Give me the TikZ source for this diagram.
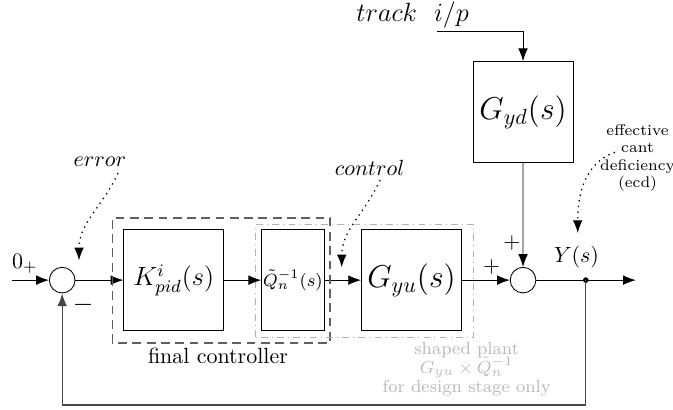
\documentclass[tikz,border=0pt]{standalone}
\usetikzlibrary{shapes,calc,arrows.meta}

\tikzset{
  block/.style={draw,rectangle,minimum width=1.60cm,minimum height=1.62cm,inner sep=1pt},
  sumnode/.style={draw,circle,minimum size=0.41cm,inner sep=0pt},
  note/.style={dotted,semithick,->}
}

\begin{document}
\begin{tikzpicture}[>={Latex[length=5.8pt,width=4.4pt]},scale=0.93]
  \useasboundingbox (0,-2.22) rectangle (11.58,4.82);
  % loop blocks
  \node[sumnode] (S1) at (1.07,0) {};
  \node[block] (K) at (2.99,0) {\large $K^i_{pid}(s)$};
  \node[block,minimum width=1.0cm,inner sep=0pt] (Q) at (5.04,0) {\footnotesize $\tilde{Q}_n^{-1}(s)$};
  \node[block] (Gyu) at (7.08,0) {\Large $G_{yu}(s)$};
  \node[sumnode] (S2) at (9.0,0) {};
  \node[block] (Gyd) at (9.0,2.89) {\Large $G_{yd}(s)$};
  \coordinate (In) at (0.21,0);
  \coordinate (Yd) at (10.08,0);
  \coordinate (Out) at (10.94,0);
  \coordinate (T0) at (7.52,4.28);
  \coordinate (FB) at (10.08,-2.15);
  \path[->] (In) edge (S1);
  \path[->] (S1) edge (K);
  \path[->] (K) edge (Q);
  \path[->] (Q) edge (Gyu);
  \path[->] (Gyu) edge (S2);
  \path[->] (Gyd) edge (S2);
  \path[->] (S2) edge (Out);
  \draw[->] (T0) -| (Gyd.north);
  \fill (Yd) circle (1.4pt);
  \draw[->,gray!55!black,semithick] (Yd) -- (FB) -| (S1.south);
  % grouping boxes
  \draw[dash pattern=on 4pt off 2.5pt,semithick,gray!75!black] (1.93,-1.08) rectangle (5.68,1.07);
  \draw[dash dot,gray!60] (4.39,-0.98) rectangle (8.15,0.96);
  % signs and labels
  \node (Zp) at (0.43,0.28) {$0_+$};
  \node (Mn) at (1.43,-0.43) {\large $-$};
  \node (P1) at (8.46,0.22) {$+$};
  \node (P2) at (8.81,0.64) {$+$};
  \node (Y) at (9.92,0.40) {$Y(s)$};
  \node (Tk) at (7.10,4.56) {\large $track~~i/p$};
  \node (FC) at (3.75,-1.31) {final controller};
  \node[align=center,font=\footnotesize,text=gray!55,inner sep=1pt] (SP) at (8.03,-1.53)
    {shaped plant\\[-1pt]$G_{yu}\times\tilde{Q}_n^{-1}$\\[-1pt]for design stage only};
  \node (E) at (1.72,2.03) {$error$};
  \node (C) at (6.36,1.93) {$control$};
  \node[align=center,font=\scriptsize] (ECD) at (10.97,2.10) {effective\\cant\\deficiency\\(ecd)};
  \draw[note] (2.03,1.84) to[out=-115,in=90] (1.36,0.34);
  \draw[note] (6.54,1.72) to[out=-115,in=90] (5.88,0.22);
  \draw[note] (10.58,2.20) to[out=200,in=90] (9.94,0.81);
\end{tikzpicture}
\end{document}
